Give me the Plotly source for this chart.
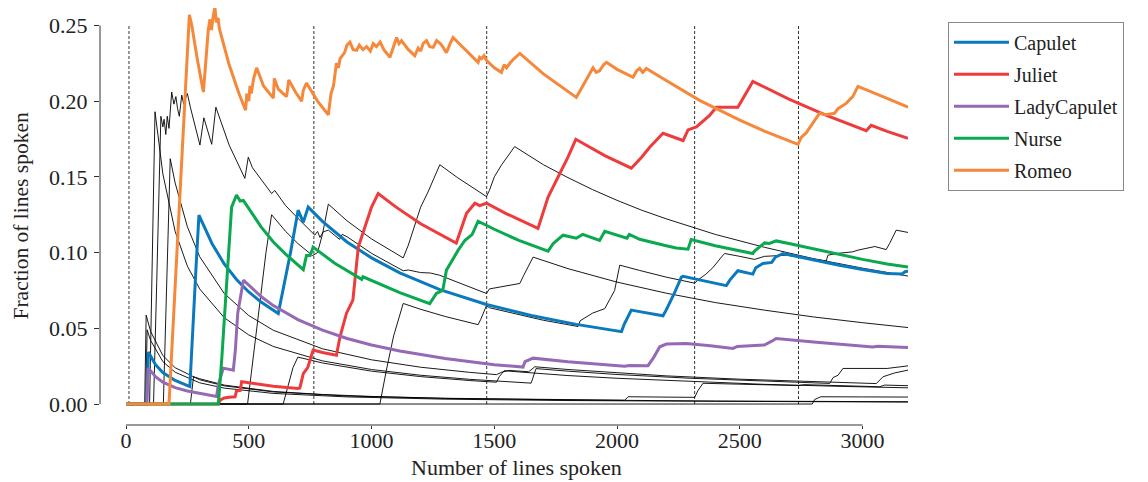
import plotly.graph_objects as go

# ---------------- data ----------------
act_starts = [12, 765, 1469, 2316, 2739]

x_ticks = [0, 500, 1000, 1500, 2000, 2500, 3000]
y_ticks = [0.0, 0.05, 0.10, 0.15, 0.20, 0.25]

capulet_x = [0, 84, 91, 120, 150, 200, 260, 270, 285, 297, 350, 400, 450, 500, 550, 620, 640, 670, 701, 722, 742,
             800, 900, 1000, 1115, 1278, 1468, 1650, 1834, 2018, 2030, 2058, 2092, 2187, 2200, 2230, 2262, 2269, 2350,
             2445, 2460, 2492, 2553, 2565, 2594, 2630, 2645, 2676, 2700, 2800, 2900, 3000, 3070, 3100, 3160, 3175, 3185]
capulet_y = [0, 0, 0.0343, 0.026, 0.0208, 0.0156, 0.0115, 0.045, 0.09, 0.1247, 0.106, 0.0925, 0.0822, 0.074, 0.0673,
             0.0597, 0.075, 0.1, 0.128, 0.12, 0.13,
             0.1206, 0.107, 0.0965, 0.0866, 0.0755, 0.0657, 0.0585, 0.0526, 0.0478, 0.053, 0.062, 0.061, 0.0583, 0.062,
             0.072, 0.0838, 0.0844, 0.0815,
             0.0782, 0.082, 0.088, 0.0858, 0.09, 0.0928, 0.0935, 0.097, 0.0994, 0.0986, 0.095, 0.0918, 0.0888, 0.0868,
             0.0862, 0.0858, 0.0875, 0.0877]

juliet_x = [0, 376, 383, 400, 420, 444, 450, 465, 471, 500, 600, 700, 708, 722, 740, 762, 800, 857, 871, 898, 924, 946,
            980, 1000, 1027, 1100, 1200, 1300, 1345, 1387, 1421, 1440, 1468, 1550, 1678, 1719, 1767, 1800, 1832, 1950,
            2058, 2100, 2133, 2187, 2269, 2289, 2323, 2377, 2404, 2492, 2553, 2700, 2850, 3015, 3035, 3100, 3185]
juliet_y = [0, 0, 0.0026, 0.004, 0.0045, 0.0048, 0.0085, 0.009, 0.0147, 0.014, 0.0118, 0.0103, 0.0106, 0.02, 0.024,
            0.0356, 0.034, 0.0322, 0.044, 0.06, 0.0686, 0.1036,
            0.12, 0.13, 0.139, 0.13, 0.119, 0.11, 0.1063, 0.126, 0.1326, 0.131, 0.1326, 0.1256, 0.116, 0.1366, 0.152,
            0.163, 0.1748, 0.164,
            0.1557, 0.163, 0.1695, 0.1788, 0.174, 0.181, 0.183, 0.1906, 0.196, 0.196, 0.213, 0.2014, 0.1908, 0.1805,
            0.184, 0.18, 0.1755]

ladycapulet_x = [0, 84, 91, 120, 150, 200, 250, 300, 369, 375, 396, 437, 445, 455, 478, 550, 600, 700, 800, 900, 1000,
                 1115, 1300, 1500, 1617, 1625, 1658, 1800, 2031, 2050, 2126, 2150, 2174, 2201, 2282, 2380, 2472, 2490,
                 2567, 2600, 2630, 2648, 2800, 3000, 3042, 3060, 3185]
ladycapulet_y = [0, 0, 0.0237, 0.018, 0.0144, 0.0108, 0.0086, 0.0072, 0.005, 0.012, 0.0237, 0.0224, 0.035, 0.06,
                 0.0818, 0.071, 0.065, 0.0557, 0.0488, 0.0433, 0.039,
                 0.035, 0.030, 0.026, 0.0244, 0.028, 0.0303, 0.0279, 0.025, 0.0255, 0.0253, 0.031, 0.0378, 0.0396,
                 0.040, 0.0385, 0.0367, 0.038,
                 0.039, 0.039, 0.0415, 0.0433, 0.041, 0.0382, 0.0377, 0.0382, 0.0374]

nurse_x = [0, 376, 390, 410, 430, 450, 465, 478, 550, 600, 650, 722, 735, 750, 762, 850, 960, 965, 1115, 1237, 1250,
           1264, 1290, 1305, 1353, 1380, 1410, 1434, 1500, 1600, 1719, 1740, 1780, 1834, 1860, 1929, 1950, 2000, 2040,
           2050, 2092, 2200, 2241, 2289, 2302, 2400, 2459, 2553, 2560, 2601, 2620, 2648, 2700, 2800, 2900, 3000, 3100,
           3185]
nurse_y = [0, 0, 0.03, 0.08, 0.13, 0.138, 0.134, 0.1345, 0.117, 0.107, 0.099, 0.0887, 0.098, 0.098, 0.1036, 0.093,
           0.0823, 0.084, 0.0735, 0.0663, 0.07,
           0.073, 0.075, 0.0884, 0.1016, 0.108, 0.112, 0.1207, 0.1154, 0.108, 0.101, 0.106, 0.1115, 0.1095, 0.112,
           0.108, 0.114, 0.1115, 0.1095,
           0.112, 0.1088, 0.1045, 0.103, 0.1022, 0.1086, 0.1045, 0.1027, 0.0994, 0.101, 0.1064, 0.106, 0.1077, 0.106,
           0.1025, 0.099, 0.0955, 0.0925, 0.0904]

romeo_x = [0, 175, 258, 268, 290, 315, 322, 335, 342, 348, 355, 362, 368, 375, 380, 420, 460, 487, 492, 500, 505, 510,
           520, 532, 560, 600, 604, 620, 654, 663, 690, 715, 722, 735, 780, 824, 835, 845, 857, 865, 872, 890, 900,
           912, 925, 939, 950, 965, 980, 995, 1007, 1020, 1035, 1050, 1075, 1090, 1102, 1112, 1122, 1150, 1176, 1190,
           1200, 1210, 1224, 1237, 1251, 1265, 1280, 1290, 1305, 1320, 1332, 1434, 1440, 1448, 1458, 1468, 1500, 1529,
           1540, 1550, 1563, 1580, 1604, 1700, 1834, 1850, 1870, 1890, 1902, 1915, 1929, 1945, 1957, 2000, 2040, 2065,
           2080, 2092, 2105, 2119, 2200, 2336, 2500, 2600, 2737, 2750, 2770, 2800, 2825, 2850, 2886, 2900, 2933, 2960,
           2981, 3100, 3185]
romeo_y = [0, 0, 0.257, 0.25, 0.228, 0.206, 0.22, 0.247, 0.254, 0.247, 0.256, 0.262, 0.252, 0.255, 0.248, 0.224,
           0.205, 0.194, 0.205, 0.2, 0.21, 0.205,
           0.215, 0.222, 0.21, 0.202, 0.215, 0.208, 0.203, 0.214, 0.206, 0.2, 0.207, 0.212, 0.2, 0.191, 0.205, 0.21,
           0.225, 0.222, 0.228, 0.232, 0.237,
           0.239, 0.234, 0.2335, 0.237, 0.234, 0.236, 0.233, 0.238, 0.236, 0.239, 0.234, 0.229, 0.236, 0.242, 0.238,
           0.24, 0.234, 0.230, 0.235,
           0.233, 0.238, 0.240, 0.236, 0.2355, 0.24, 0.238, 0.236, 0.232, 0.238, 0.242, 0.2256, 0.229, 0.228, 0.23,
           0.227, 0.222, 0.219,
           0.224, 0.222, 0.225, 0.228, 0.2315, 0.218, 0.2025, 0.207, 0.213, 0.219, 0.222, 0.219, 0.220, 0.224, 0.2256,
           0.221, 0.2175, 0.2157,
           0.22, 0.2216, 0.219, 0.2216, 0.2136, 0.2005, 0.1874, 0.1802, 0.1715, 0.176, 0.179, 0.186, 0.192, 0.191,
           0.192, 0.195, 0.1985, 0.203,
           0.2098, 0.2018, 0.196]

# minor characters (thin black lines)
benvolio_x = [0, 112, 125, 142, 150, 155, 162, 168, 175, 186, 195, 203, 210, 217, 227, 235, 240, 250, 262, 301, 317,
              349, 366, 420, 484, 498, 515, 593, 606, 650, 701, 769, 780, 790, 803, 824, 870, 880, 900, 1000, 1129,
              1150, 1200, 1240, 1278, 1350, 1468, 1480, 1520, 1604, 1620, 1658, 1800, 2000, 2200, 2400, 2600, 2800,
              3000, 3185]
benvolio_y = [0, 0, 0.08, 0.19, 0.183, 0.188, 0.178, 0.19, 0.182, 0.206, 0.198, 0.203, 0.195, 0.19, 0.204, 0.198,
              0.201, 0.205, 0.196, 0.171, 0.189,
              0.1715, 0.196, 0.171, 0.149, 0.163, 0.156, 0.139, 0.141, 0.131, 0.1225, 0.1115, 0.114, 0.110, 0.1137,
              0.1148, 0.1087, 0.112, 0.1105, 0.0995, 0.088,
              0.0885, 0.0868, 0.0865, 0.085, 0.0805, 0.073, 0.076, 0.0772, 0.0796, 0.085, 0.097, 0.0894, 0.0805,
              0.0732, 0.067, 0.062, 0.0575,
              0.0537, 0.0505]

mercutio_x = [0, 495, 510, 540, 570, 593, 650, 700, 749, 760, 780, 800, 824, 900, 1000, 1129, 1150, 1180, 1200, 1230,
              1278, 1350, 1468, 1480, 1500, 1530, 1560, 1583, 1700, 1800, 1900, 2000, 2100, 2200, 2400, 2600, 2800,
              3000, 3185]
mercutio_y = [0, 0, 0.02, 0.06, 0.1, 0.125, 0.114, 0.106, 0.099, 0.098, 0.1, 0.112, 0.132, 0.121, 0.109, 0.0965,
              0.105, 0.12, 0.13, 0.14,
              0.158, 0.1495, 0.137, 0.141, 0.15, 0.158, 0.165, 0.170, 0.158, 0.1495, 0.1416, 0.1345, 0.128, 0.1223,
              0.112, 0.1035, 0.096,
              0.0897, 0.0845]

friar_x = [0, 1034, 1060, 1090, 1129, 1197, 1300, 1434, 1445, 1468, 1480, 1600, 1700, 1841, 1850, 1900, 1950, 1990,
           2011, 2092, 2200, 2316, 2330, 2360, 2390, 2425, 2438, 2500, 2560, 2600, 2689, 2852, 2859, 2900, 2960, 2981,
           3015, 3050, 3096, 3110, 3137, 3185]
friar_y = [0, 0, 0.022, 0.045, 0.0664, 0.0627, 0.0578, 0.0524, 0.056, 0.065, 0.0636, 0.0588, 0.0553, 0.0512, 0.055,
           0.06, 0.063, 0.075,
           0.0917, 0.0882, 0.0838, 0.0798, 0.082, 0.0855, 0.09, 0.097, 0.0994, 0.0975, 0.0955, 0.0975, 0.0983, 0.0945,
           0.0983, 0.0995, 0.1005, 0.1016,
           0.1027, 0.104, 0.102, 0.106, 0.1148, 0.1133]

prince_x = [0, 96, 118, 150, 200, 250, 300, 400, 500, 600, 800, 1000, 1200, 1400, 1650, 1660, 1670, 1800, 2000, 2300,
            2600, 2866, 2880, 2900, 2920, 3100, 3185]
prince_y = [0, 0, 0.193, 0.152, 0.114, 0.091, 0.076, 0.057, 0.0456, 0.038, 0.0285, 0.0228, 0.019, 0.0163, 0.0138,
            0.018, 0.0234, 0.0217, 0.0195, 0.017,
            0.015, 0.0136, 0.0175, 0.019, 0.0235, 0.0235, 0.0252]

montague_x = [0, 152, 180, 200, 250, 300, 400, 500, 600, 800, 1000, 1200, 1400, 1509, 1530, 1560, 1640, 1650, 1665,
              1800, 2000, 2200, 2500, 2800, 3056, 3083, 3130, 3185]
montague_y = [0, 0, 0.162, 0.146, 0.117, 0.0973, 0.073, 0.0584, 0.0487, 0.0365, 0.0292, 0.0243, 0.0209, 0.0194,
              0.021, 0.0222, 0.0213, 0.0228, 0.0246,
              0.0228, 0.0205, 0.0186, 0.0164, 0.0146, 0.0135, 0.018, 0.0205, 0.0224]

tybalt_x = [0, 640, 660, 680, 700, 800, 1000, 1200, 1400, 1509, 1520, 1540, 1600, 1800, 2000, 2300, 2600, 2900, 3185]
tybalt_y = [0, 0, 0.012, 0.024, 0.031, 0.0271, 0.0217, 0.0181, 0.0155, 0.0144, 0.018, 0.022, 0.0212, 0.0188, 0.017,
            0.0148, 0.013, 0.0117, 0.0107]

paris_x = [0, 262, 275, 300, 400, 600, 800, 1000, 1300, 1600, 2031, 2045, 2316, 2330, 2350, 2500, 2700, 2740, 2760,
           2900, 3070, 3090, 3185]
paris_y = [0, 0, 0.018, 0.0167, 0.0125, 0.0083, 0.0063, 0.005, 0.0038, 0.0031, 0.0025, 0.0048, 0.0044, 0.009, 0.0137,
           0.0131, 0.0124, 0.0122, 0.0128,
           0.0121, 0.0114, 0.0125, 0.0121]

sampson_x = [0, 76, 82, 100, 150, 200, 300, 400, 600, 900, 1300, 1800, 2400, 3185]
sampson_y = [0, 0, 0.0587, 0.048, 0.032, 0.024, 0.016, 0.012, 0.008, 0.0053, 0.0037, 0.0027, 0.002, 0.0015]

gregory_x = [0, 80, 86, 100, 150, 200, 300, 400, 600, 900, 1300, 1800, 2400, 3185]
gregory_y = [0, 0, 0.049, 0.042, 0.028, 0.021, 0.014, 0.0105, 0.007, 0.0047, 0.0032, 0.0023, 0.0018, 0.0013]

balthasar_x = [0, 2795, 2805, 2830, 3000, 3185]
balthasar_y = [0, 0, 0.003, 0.0048, 0.0047, 0.0046]

main_names = ["Capulet", "Juliet", "LadyCapulet", "Nurse", "Romeo"]
main_colors = ["#0a79bd", "#ee3b3b", "#9569b3", "#0aa84f", "#f5883a"]
main_series = [(capulet_x, capulet_y), (juliet_x, juliet_y), (ladycapulet_x, ladycapulet_y),
               (nurse_x, nurse_y), (romeo_x, romeo_y)]
minor_series = [(benvolio_x, benvolio_y), (mercutio_x, mercutio_y), (friar_x, friar_y), (prince_x, prince_y),
                (montague_x, montague_y), (tybalt_x, tybalt_y), (paris_x, paris_y), (sampson_x, sampson_y),
                (gregory_x, gregory_y), (balthasar_x, balthasar_y)]

# ---------------- figure ----------------
FONT = "Liberation Serif"
TXT = "#222222"
fig = go.Figure()

for xs, ys in minor_series:
    fig.add_trace(go.Scatter(x=xs, y=ys, mode="lines", showlegend=False, hoverinfo="skip",
                             line=dict(color="black", width=0.9)))

for name, color, (xs, ys) in zip(main_names, main_colors, main_series):
    fig.add_trace(go.Scatter(x=xs, y=ys, mode="lines", name=name, legendgroup=name,
                             line=dict(color=color, width=3)))

shapes = []
for a in act_starts:
    shapes.append(dict(type="line", xref="x", yref="y", x0=a, x1=a, y0=0, y1=0.25, layer="below",
                       line=dict(color="#333333", width=1, dash="3px,2px")))
# trimmed spines
shapes.append(dict(type="line", xref="x", yref="paper", x0=0, x1=3000, y0=0, y1=0,
                   line=dict(color="#333333", width=1)))
shapes.append(dict(type="line", xref="paper", yref="y", x0=0, x1=0, y0=0, y1=0.25,
                   line=dict(color="#333333", width=1)))

fig.update_layout(
    width=1148, height=482,
    margin=dict(l=92, r=248, t=0, b=65, autoexpand=False),
    paper_bgcolor="white", plot_bgcolor="white",
    font=dict(family=FONT, size=21, color=TXT),
    shapes=shapes,
    showlegend=True,
    legend=dict(x=1.0495, y=0.967, xanchor="left", yanchor="top",
                bordercolor="#888888", borderwidth=1, bgcolor="white",
                font=dict(family=FONT, size=20, color=TXT),
                itemwidth=55, tracegroupgap=3, entrywidth=150, entrywidthmode="pixels"),
    annotations=[
        dict(text="Number of lines spoken", xref="paper", yref="paper", x=0.516, y=-0.101,
             xanchor="center", yanchor="middle", showarrow=False, font=dict(family=FONT, size=22, color=TXT)),
        dict(text="Fraction of lines spoken", xref="paper", yref="paper", x=-0.099, y=0.5,
             xanchor="center", yanchor="middle", textangle=-90, showarrow=False,
             font=dict(family=FONT, size=21.5, color=TXT)),
    ],
)

fig.update_xaxes(range=[-106, 3185], tickvals=x_ticks, ticktext=[str(v) for v in x_ticks],
                 showgrid=False, zeroline=False, showline=False, ticks="outside", ticklen=3,
                 ticklabelstandoff=-7,
                 tickcolor="#333333", automargin=False, tickfont=dict(family=FONT, size=22, color=TXT))
fig.update_yaxes(range=[-0.01385, 0.2615], tickvals=y_ticks, ticktext=["%.2f" % v for v in y_ticks],
                 showgrid=False, zeroline=False, showline=False, ticks="outside", ticklen=5,
                 ticklabelstandoff=2,
                 tickcolor="#333333", automargin=False, tickfont=dict(family=FONT, size=22, color=TXT))

fig.write_html("out.html")
